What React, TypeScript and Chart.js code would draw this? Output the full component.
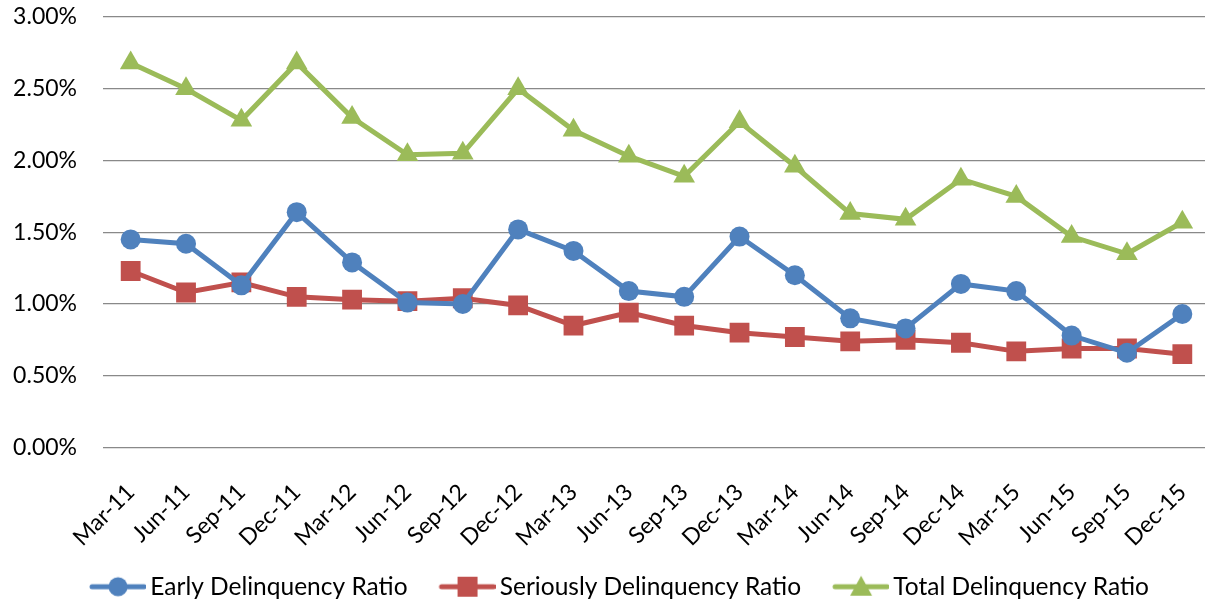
import React, { useEffect, useRef } from "react";
import { Chart, registerables } from "chart.js";

Chart.register(...registerables);

const categories = [
  "Mar-11", "Jun-11", "Sep-11", "Dec-11", "Mar-12", "Jun-12", "Sep-12", "Dec-12",
  "Mar-13", "Jun-13", "Sep-13", "Dec-13", "Mar-14", "Jun-14", "Sep-14", "Dec-14",
  "Mar-15", "Jun-15", "Sep-15", "Dec-15",
];

const earlyRatio = [
  1.45, 1.42, 1.13, 1.64, 1.29, 1.01, 1.0, 1.52, 1.37, 1.09, 1.05, 1.47,
  1.2, 0.9, 0.83, 1.14, 1.09, 0.78, 0.66, 0.93,
];

const seriousRatio = [
  1.23, 1.08, 1.15, 1.05, 1.03, 1.02, 1.04, 0.99, 0.85, 0.94, 0.85, 0.8,
  0.77, 0.74, 0.75, 0.73, 0.67, 0.69, 0.69, 0.65,
];

const totalRatio = [
  2.68, 2.5, 2.28, 2.68, 2.3, 2.04, 2.05, 2.5, 2.21, 2.03, 1.89, 2.27,
  1.96, 1.63, 1.59, 1.87, 1.75, 1.47, 1.35, 1.57,
];

const seriesNames = [
  "Early Delinquency Ratio",
  "Seriously Delinquency Ratio",
  "Total Delinquency Ratio",
];

const BLUE = "#4F81BD";
const RED = "#C0504D";
const GREEN = "#9BBB59";
const FONT = "Lato";
const FS = 23;
const LEG_FS = 24.5;
const LEGEND_SHIFT = 9;

function legendIcon(color: string, style: string): HTMLCanvasElement {
  const c = document.createElement("canvas");
  const w = 72;
  const h = 24;
  c.width = w;
  c.height = h;
  const ctx = c.getContext("2d")!;
  const x0 = w - 56;
  const cx = x0 + 28;
  const cy = h / 2;
  ctx.strokeStyle = color;
  ctx.lineWidth = 5;
  ctx.lineCap = "round";
  ctx.beginPath();
  ctx.moveTo(x0 + 2, cy);
  ctx.lineTo(w - 2, cy);
  ctx.stroke();
  ctx.fillStyle = color;
  ctx.beginPath();
  if (style === "circle") {
    ctx.arc(cx, cy, 9.5, 0, Math.PI * 2);
  } else if (style === "rect") {
    ctx.rect(cx - 10, cy - 10, 20, 20);
  } else {
    ctx.moveTo(cx, cy - 11);
    ctx.lineTo(cx + 11, cy + 9);
    ctx.lineTo(cx - 11, cy + 9);
    ctx.closePath();
  }
  ctx.fill();
  return c;
}

const legendShift = {
  id: "legendShift",
  afterLayout(chart: any) {
    if (chart.legend) {
      chart.legend.left += LEGEND_SHIFT;
      chart.legend.right += LEGEND_SHIFT;
    }
  },
};

export default function App() {
  const ref = useRef<HTMLCanvasElement | null>(null);

  useEffect(() => {
    if (!ref.current) return;
    const icons = [
      legendIcon(BLUE, "circle"),
      legendIcon(RED, "rect"),
      legendIcon(GREEN, "triangle"),
    ];
    const chart = new Chart(ref.current, {
      type: "line",
      data: {
        labels: categories,
        datasets: [
          {
            label: seriesNames[0],
            data: earlyRatio,
            borderColor: BLUE,
            backgroundColor: BLUE,
            borderWidth: 5,
            pointStyle: "circle",
            pointRadius: 10,
            pointBorderWidth: 0,
          },
          {
            label: seriesNames[1],
            data: seriousRatio,
            borderColor: RED,
            backgroundColor: RED,
            borderWidth: 5,
            pointStyle: "rect",
            pointRadius: 14,
            pointBorderWidth: 0,
          },
          {
            label: seriesNames[2],
            data: totalRatio,
            borderColor: GREEN,
            backgroundColor: GREEN,
            borderWidth: 5,
            pointStyle: "triangle",
            pointRadius: 12.5,
            pointBorderWidth: 0,
          },
        ],
      },
      plugins: [legendShift],
      options: {
        responsive: false,
        animation: false,
        layout: { padding: { top: 17, left: 0, right: 11, bottom: 0 } },
        scales: {
          x: {
            offset: true,
            grid: { display: false, drawTicks: false },
            border: { display: false },
            ticks: {
              color: "#000",
              font: { family: FONT, size: FS },
              maxRotation: 45,
              minRotation: 45,
              autoSkip: false,
              padding: 31,
            },
            afterFit: (s: any) => {
              s.height = 103;
              s.paddingLeft = 0;
              s.paddingRight = 0;
            },
          },
          y: {
            min: 0,
            max: 3,
            grid: { color: "#898989", lineWidth: 1.3, drawTicks: false },
            border: { display: false },
            ticks: {
              stepSize: 0.5,
              color: "#000",
              font: { family: FONT, size: FS },
              padding: 26,
              callback: (v: any) => Number(v).toFixed(2) + "%",
            },
            afterFit: (s: any) => {
              s.width = 103;
              s.paddingTop = 0;
              s.paddingBottom = 0;
            },
          },
        },
        plugins: {
          tooltip: { enabled: false },
          legend: {
            position: "bottom",
            labels: {
              color: "#000",
              font: { family: FONT, size: LEG_FS },
              usePointStyle: true,
              pointStyleWidth: 56,
              padding: 24,
              generateLabels: (ch: any) => {
                const items = Chart.defaults.plugins.legend.labels.generateLabels(ch);
                return items.map((it: any, i: number) => ({ ...it, pointStyle: icons[i] }));
              },
            },
          },
        },
      },
    });
    return () => chart.destroy();
  }, []);

  return (
    <div
      style={{
        position: "absolute",
        left: 0,
        top: 0,
        width: 1205,
        height: 603,
        overflow: "hidden",
        background: "#fff",
      }}
    >
      <canvas ref={ref} width={1224} height={609} style={{ display: "block" }} />
    </div>
  );
}
